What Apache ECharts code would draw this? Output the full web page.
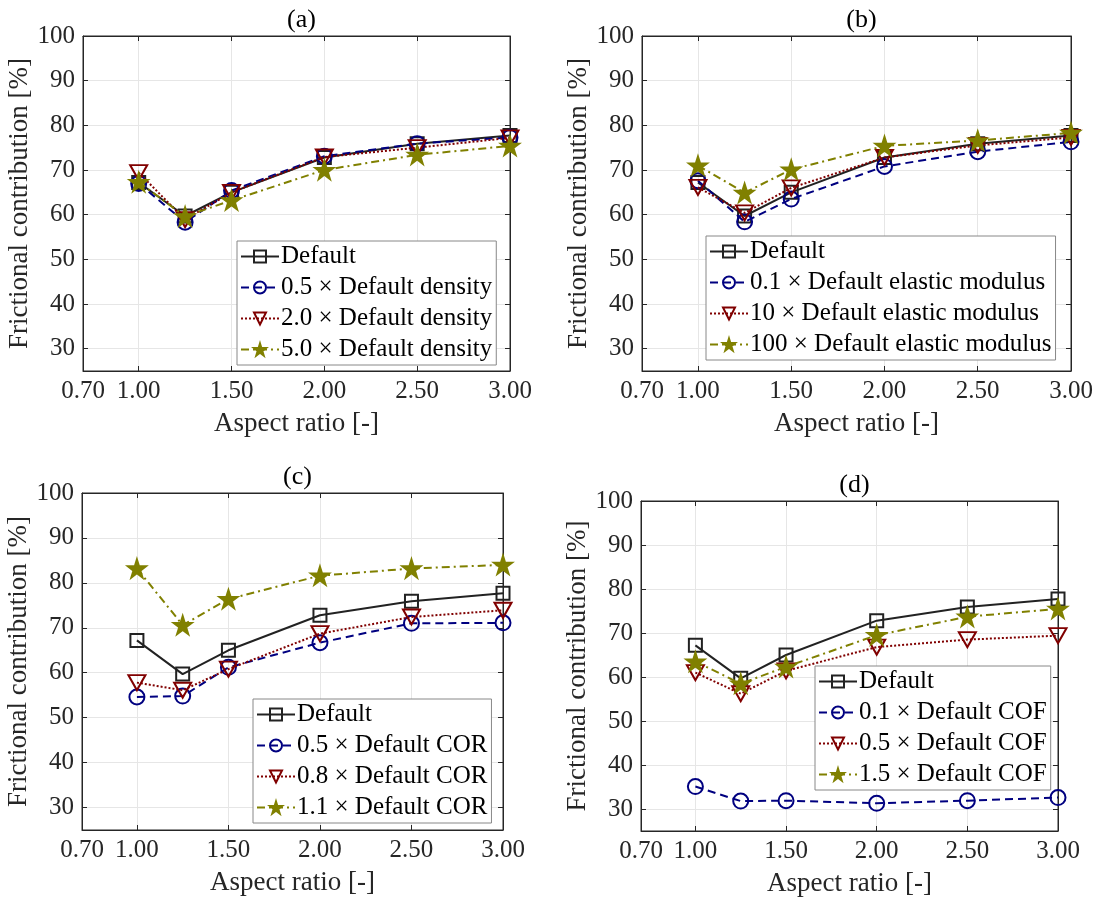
<!DOCTYPE html>
<html>
<head>
<meta charset="utf-8">
<script src="https://cdn.jsdelivr.net/npm/echarts@6/dist/echarts.min.js"></script>
<style>
  html, body { margin: 0; background: #fff; }
  #main { width: 1097px; height: 900px; }
</style>
</head>
<body>
<div id="main"></div>
<script>
// aspect ratios tested (x)
var aspectRatio = [1.0, 1.25, 1.5, 2.0, 2.5, 3.0];
var xTicks = [0.7, 1.0, 1.5, 2.0, 2.5, 3.0];
var yTicks = [30, 40, 50, 60, 70, 80, 90, 100];

// same baseline in every panel
var defaultCase = [67.2, 59.7, 65.0, 72.8, 75.9, 77.7];

// (a) density
var density05 = [67.0, 58.3, 65.4, 73.1, 75.9, 77.3];
var density20 = [69.4, 58.9, 65.0, 72.9, 75.0, 77.2];
var density50 = [67.3, 59.6, 63.2, 70.0, 73.4, 75.4];

// (b) elastic modulus
var modulus01 = [67.6, 58.4, 63.5, 70.8, 74.1, 76.3];
var modulus10 = [66.1, 60.4, 66.0, 72.8, 75.5, 77.3];
var modulus100 = [71.0, 64.9, 70.1, 75.4, 76.6, 78.3];

// (c) COR
var cor05 = [54.6, 54.8, 61.2, 66.7, 71.0, 71.1];
var cor08 = [57.8, 56.1, 60.8, 68.7, 72.4, 73.9];
var cor11 = [83.2, 70.6, 76.4, 81.6, 83.2, 84.0];

// (d) COF
var cof01 = [35.1, 31.8, 31.9, 31.3, 31.9, 32.6];
var cof05 = [61.0, 56.2, 61.4, 66.8, 68.5, 69.4];
var cof15 = [63.5, 58.5, 62.3, 69.5, 73.7, 75.5];

var X = ' \u00d7 ';
var panelTitles = ['(a)', '(b)', '(c)', '(d)'];
var legendNames = [
  ['Default', '0.5' + X + 'Default density', '2.0' + X + 'Default density', '5.0' + X + 'Default density'],
  ['Default', '0.1' + X + 'Default elastic modulus', '10' + X + 'Default elastic modulus', '100' + X + 'Default elastic modulus'],
  ['Default', '0.5' + X + 'Default COR', '0.8' + X + 'Default COR', '1.1' + X + 'Default COR'],
  ['Default', '0.1' + X + 'Default COF', '0.5' + X + 'Default COF', '1.5' + X + 'Default COF']
];
var panelData = [
  [defaultCase, density05, density20, density50],
  [defaultCase, modulus01, modulus10, modulus100],
  [defaultCase, cor05, cor08, cor11],
  [defaultCase, cof01, cof05, cof15]
];

var FONT = 'Liberation Serif, Times New Roman, serif';
var AX = '#262626';

// plot boxes [left, top, width, height]
var boxes = [
  [83, 36, 427, 335],
  [642, 36, 429, 335],
  [82, 493, 421, 337],
  [641, 501, 417, 330]
];
var legendPos = [
  [237, 241], [706, 236], [253, 699], [815, 666]
];

// pentagram marker
function starPath() {
  var pts = [];
  for (var i = 0; i < 10; i++) {
    var a = -Math.PI / 2 + i * Math.PI / 5;
    var r = i % 2 === 0 ? 50 : 19.1;
    pts.push((50 + r * Math.cos(a)).toFixed(2) + ',' + (50 + r * Math.sin(a)).toFixed(2));
  }
  return 'path://M' + pts.join('L') + 'Z';
}

var styles = [
  {color: '#222222', fill: 'transparent', type: 'solid', symbol: 'rect', size: 13},
  {color: '#000080', fill: 'transparent', type: [8, 5], symbol: 'circle', size: 15},
  {color: '#800000', fill: 'transparent', type: [2, 2], symbol: 'path://M0,0L20,0L10,17.3Z', size: [17, 15]},
  {color: '#808000', fill: '#808000', type: [8, 4, 2, 4], symbol: starPath(), size: 18}
];

function pairs(ys) {
  return aspectRatio.map(function (x, i) { return [x, ys[i]]; });
}

var grid = [], xAxis = [], yAxis = [], series = [], legend = [], title = [];

boxes.forEach(function (b, p) {
  grid.push({left: b[0], top: b[1], width: b[2], height: b[3], show: true,
    borderColor: AX, borderWidth: 1, backgroundColor: '#fff'});

  title.push({text: panelTitles[p], left: b[0] + b[2] / 2, top: b[1] - 34, textAlign: 'center',
    textStyle: {fontFamily: FONT, fontSize: 26, fontWeight: 'normal', color: '#000'}});

  xAxis.push({
    gridIndex: p, type: 'value', min: 0.7, max: 3.0, position: 'bottom',
    axisLine: {show: true, onZero: false, lineStyle: {color: AX, width: 1}},
    axisTick: {show: true, inside: true, length: 5, customValues: xTicks, lineStyle: {color: AX}},
    axisLabel: {customValues: xTicks, formatter: function (v) { return v.toFixed(2); },
      fontFamily: FONT, fontSize: 25, color: AX, margin: 8},
    splitLine: {show: true, lineStyle: {color: '#e6e6e6', width: 1}},
    name: 'Aspect ratio [-]', nameLocation: 'middle', nameGap: 39,
    nameTextStyle: {fontFamily: FONT, fontSize: 27, color: AX}
  });
  xAxis.push({
    gridIndex: p, type: 'value', min: 0.7, max: 3.0, position: 'top',
    axisLine: {show: true, onZero: false, lineStyle: {color: AX, width: 1}},
    axisTick: {show: true, inside: true, length: 5, customValues: xTicks, lineStyle: {color: AX}},
    axisLabel: {show: false}, splitLine: {show: false}
  });
  yAxis.push({
    gridIndex: p, type: 'value', min: 25, max: 100, splitNumber: 8, position: 'left',
    axisLine: {show: true, onZero: false, lineStyle: {color: AX, width: 1}},
    axisTick: {show: true, inside: true, length: 5, customValues: yTicks, lineStyle: {color: AX}},
    axisLabel: {customValues: yTicks, fontFamily: FONT, fontSize: 25, color: AX, margin: 8},
    splitLine: {show: true, lineStyle: {color: '#e6e6e6', width: 1}},
    name: 'Frictional contribution [%]', nameLocation: 'middle', nameGap: 48,
    nameTextStyle: {fontFamily: FONT, fontSize: 27, color: AX}
  });
  yAxis.push({
    gridIndex: p, type: 'value', min: 25, max: 100, position: 'right',
    axisLine: {show: true, onZero: false, lineStyle: {color: AX, width: 1}},
    axisTick: {show: true, inside: true, length: 5, customValues: yTicks, lineStyle: {color: AX}},
    axisLabel: {show: false}, splitLine: {show: false}
  });

  panelData[p].forEach(function (ys, k) {
    var s = styles[k];
    series.push({
      type: 'line', name: legendNames[p][k],
      xAxisIndex: p * 2, yAxisIndex: p * 2,
      data: pairs(ys),
      symbol: s.symbol, symbolSize: s.size, showAllSymbol: true,
      lineStyle: {color: s.color, width: 2, type: s.type},
      itemStyle: {color: s.fill, borderColor: s.color, borderWidth: 2},
      emphasis: {disabled: true},
      z: 2 + k
    });
  });

  legend.push({
    data: legendNames[p], orient: 'vertical', left: legendPos[p][0], top: legendPos[p][1],
    backgroundColor: '#fff', borderColor: '#888', borderWidth: 1, borderRadius: 0,
    padding: [3, 4, 3, 3], itemGap: 6, itemWidth: 38, itemHeight: 15,
    selectedMode: false,
    textStyle: {fontFamily: FONT, fontSize: 25, color: '#000', lineHeight: 24, padding: [0, 0, 0, -3]}
  });
});

var chart = echarts.init(document.getElementById('main'), null, {renderer: 'canvas'});
chart.setOption({
  animation: false,
  backgroundColor: '#fff',
  title: title,
  grid: grid,
  xAxis: xAxis,
  yAxis: yAxis,
  legend: legend,
  series: series
});
</script>
</body>
</html>
